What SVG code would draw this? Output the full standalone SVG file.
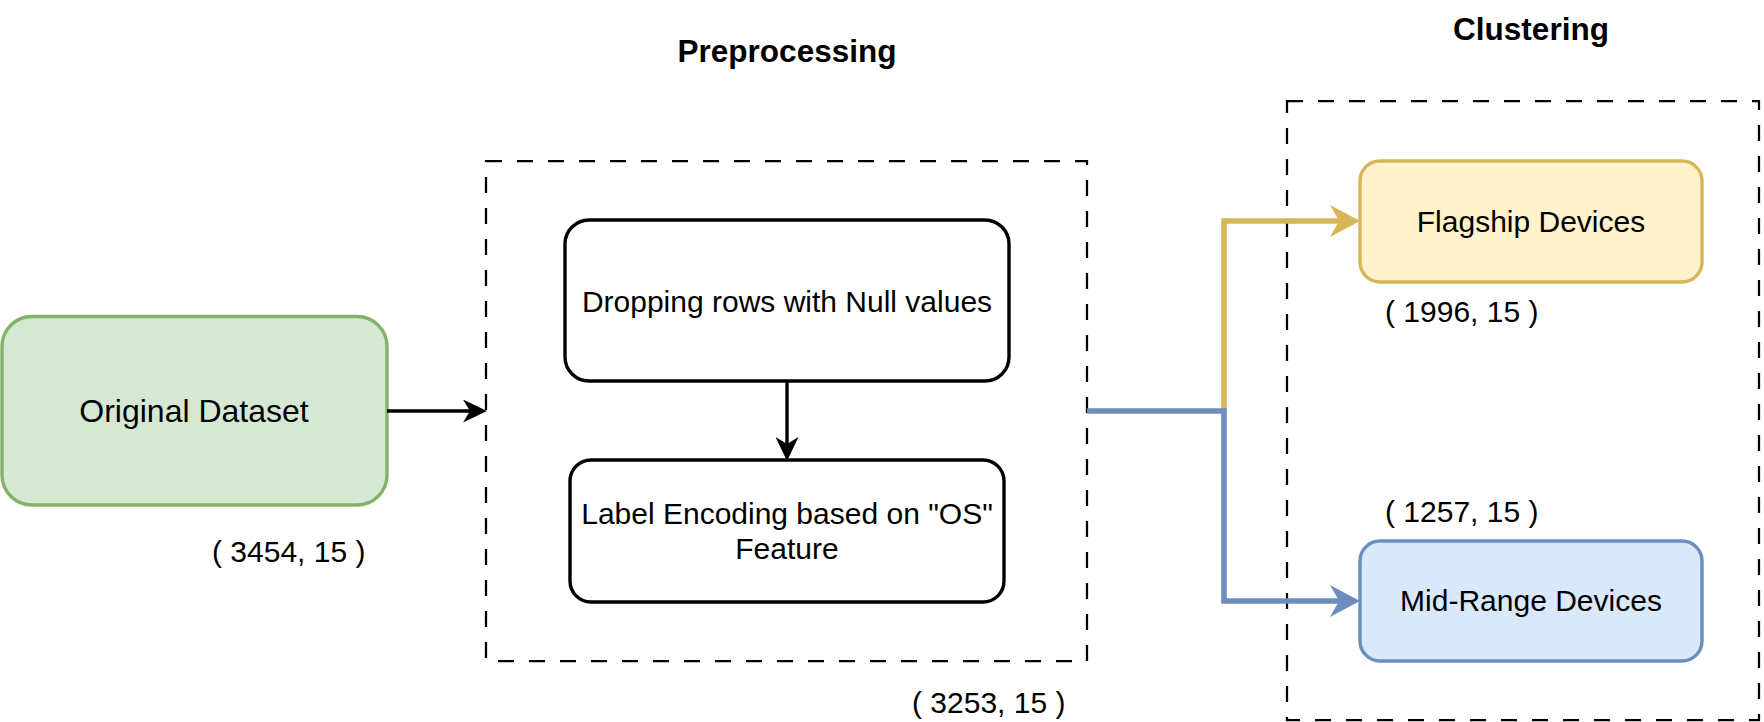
<svg xmlns="http://www.w3.org/2000/svg" width="1764" height="722" viewBox="0 0 1764 722">
<style>
.t{font-family:"Liberation Sans",Arial,Helvetica,sans-serif;font-size:30px;fill:#000;}
.c{text-anchor:middle;}
.b{font-weight:bold;font-size:31.5px;}
.grp{fill:none;stroke:#000;stroke-width:2.25;stroke-dasharray:16 15;}
.node{stroke-width:3.4;}
</style>
<defs>
<marker id="ak" markerUnits="userSpaceOnUse" markerWidth="24" markerHeight="23" refX="7" refY="11.5" orient="auto" viewBox="0 0 24 23">
<path d="M0,0 L24,11.5 L0,23 L7,11.5 Z" fill="#000"/>
</marker>
<marker id="ag" markerUnits="userSpaceOnUse" markerWidth="30" markerHeight="32" refX="9" refY="16" orient="auto" viewBox="0 0 30 32">
<path d="M0,0 L30,16 L0,32 L9,16 Z" fill="#d6b656"/>
</marker>
<marker id="ab" markerUnits="userSpaceOnUse" markerWidth="30" markerHeight="32" refX="9" refY="16" orient="auto" viewBox="0 0 30 32">
<path d="M0,0 L30,16 L0,32 L9,16 Z" fill="#6c8ebf"/>
</marker>
</defs>
<rect width="1764" height="722" fill="#fff"/>

<g id="title-preprocessing"><text class="t b c" x="787" y="62">Preprocessing</text></g>
<g id="title-clustering"><text class="t b c" x="1531" y="40">Clustering</text></g>

<g id="group-preprocessing"><rect class="grp" x="486" y="161" width="601" height="500"/></g>
<g id="group-clustering"><rect class="grp" x="1287" y="101" width="472" height="619"/></g>

<g id="original-dataset">
<rect class="node" x="2" y="316.5" width="385" height="188.5" rx="30" fill="#d5e8d4" stroke="#82b366"/>
<text class="t c" x="194" y="422" style="font-size:32px">Original Dataset</text>
</g>
<g id="label-3454"><text class="t" x="212" y="562">( 3454, 15 )</text></g>

<g id="dropping-rows">
<rect class="node" x="565" y="220" width="444" height="161" rx="24" fill="#fff" stroke="#000"/>
<text class="t c" x="787" y="312">Dropping rows with Null values</text>
</g>
<g id="label-encoding">
<rect class="node" x="570" y="460" width="434" height="142" rx="21" fill="#fff" stroke="#000"/>
<text class="t c" x="787" y="524">Label Encoding based on "OS"</text>
<text class="t c" x="787" y="559">Feature</text>
</g>
<g id="label-3253"><text class="t" x="912" y="713">( 3253, 15 )</text></g>

<g id="flagship">
<rect class="node" x="1360" y="161" width="342" height="121" rx="20" fill="#fff2cc" stroke="#d6b656"/>
<text class="t c" x="1531" y="232">Flagship Devices</text>
</g>
<g id="label-1996"><text class="t" x="1385" y="322">( 1996, 15 )</text></g>

<g id="midrange">
<rect class="node" x="1360" y="541" width="342" height="120" rx="20" fill="#dae8fc" stroke="#6c8ebf"/>
<text class="t c" x="1531" y="611">Mid-Range Devices</text>
</g>
<g id="label-1257"><text class="t" x="1385" y="522">( 1257, 15 )</text></g>

<g id="connectors" fill="none">
<path d="M387,411 H470" stroke="#000" stroke-width="3.4" marker-end="url(#ak)"/>
<path d="M787,381 V444" stroke="#000" stroke-width="3.4" marker-end="url(#ak)"/>
<path d="M1224,411 V221 H1339" stroke="#d6b656" stroke-width="5.6" marker-end="url(#ag)"/>
<path d="M1087,411 H1224 V601 H1339" stroke="#6c8ebf" stroke-width="5.6" marker-end="url(#ab)"/>
</g>
</svg>
